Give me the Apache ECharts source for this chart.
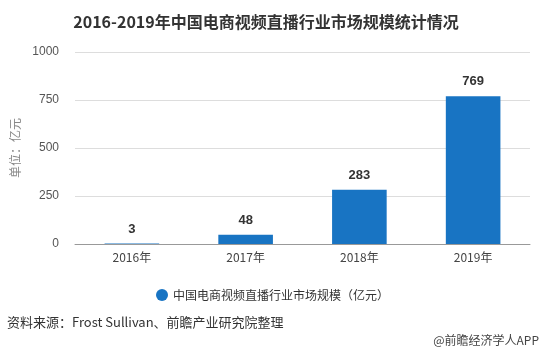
<!DOCTYPE html>
<html><head><meta charset="utf-8">
<script src="https://cdn.jsdelivr.net/npm/echarts@6/dist/echarts.min.js"></script>
<style>html,body{margin:0;padding:0;background:#fff}#c{width:543px;height:356px}</style>
</head><body><div id="c"></div>
<script>
const categories = ['2016年','2017年','2018年','2019年'];
const values = [3, 48, 283, 769];
const seriesName = '中国电商视频直播行业市场规模（亿元）';
const yTicks = [0, 250, 500, 750, 1000];

const chart = echarts.init(document.getElementById('c'));
chart.setOption({
  backgroundColor: '#fff',
  animation: false,
  title: {
    text: '2016-2019年中国电商视频直播行业市场规模统计情况',
    left: 261, top: 9, textAlign: 'center',
    textStyle: {fontSize: 16, fontWeight: 'bold', color: '#333', fontFamily: 'Noto Sans CJK SC'}
  },
  grid: {left: 75, right: 13, top: 52, bottom: 112},
  legend: {
    data: [seriesName], left: 151, top: 284, icon: 'circle', itemWidth: 12, itemHeight: 12,
    textStyle: {fontSize: 12, color: '#333', fontFamily: 'Noto Sans CJK SC'}
  },
  xAxis: {
    type: 'category', data: categories,
    axisLine: {lineStyle: {color: '#999'}},
    axisTick: {alignWithLabel: true, length: 5, lineStyle: {color: '#999'}},
    axisLabel: {fontSize: 12, color: '#444', margin: 7, fontFamily: 'Noto Sans CJK SC'}
  },
  yAxis: {
    type: 'value', min: yTicks[0], max: yTicks[yTicks.length-1], interval: 250,
    name: '单位：亿元', nameLocation: 'middle', nameGap: 45, nameRotate: 90,
    nameTextStyle: {fontSize: 12, color: '#888', fontFamily: 'Noto Sans CJK SC'},
    axisLine: {show: false}, axisTick: {show: false},
    axisLabel: {fontSize: 12, color: '#555', margin: 16, formatter: v => String(v)},
    splitLine: {lineStyle: {color: '#ddd'}}
  },
  series: [{
    name: seriesName, type: 'bar', data: values, barWidth: '48%',
    itemStyle: {color: '#1874c3'},
    label: {show: true, position: 'top', distance: 8, fontSize: 13, fontWeight: 'bold', color: '#333'}
  }],
  graphic: [
    {type: 'text', left: 7, top: 316, style: {text: '资料来源：Frost Sullivan、前瞻产业研究院整理', fontSize: 13, fill: '#333', fontFamily: 'Noto Sans CJK SC'}},
    {type: 'text', right: 4, top: 334, style: {text: '@前瞻经济学人APP', fontSize: 12, fill: '#444', fontFamily: 'Noto Sans CJK SC'}}
  ]
});
</script></body></html>
